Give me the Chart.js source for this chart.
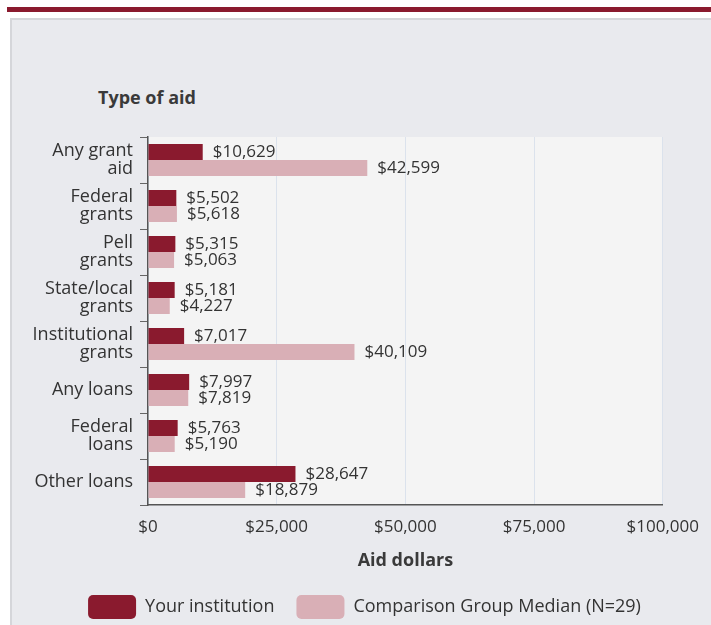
<!DOCTYPE html>
<html>
<head>
<meta charset="utf-8">
<script src="https://cdn.jsdelivr.net/npm/chart.js@4/dist/chart.umd.min.js"></script>
<style>
  html, body { margin: 0; padding: 0; background: #fff; width: 711px; height: 625px; overflow: hidden; }
  .top-bar { position: absolute; left: 7px; top: 7px; width: 704px; height: 5px; background: #8a1a2e; }
  .frame { position: absolute; left: 10px; top: 18px; width: 710px; height: 620px; background: #e9eaee;
           border-left: 2px solid #d5d6da; border-top: 2px solid #d5d6da; }
  .chart-title { position: absolute; left: 98px; top: 85px; font: bold 18px "Open Sans", sans-serif; color: #3a3a3a; }
  #aidChart { position: absolute; left: 0; top: 0; }
</style>
</head>
<body>
<div class="top-bar"></div>
<div class="frame"></div>
<div class="chart-title">Type of aid</div>
<canvas id="aidChart" width="711" height="625"></canvas>
<script>
// Chart data
const categories = [
    ['Any grant', 'aid'],
    ['Federal', 'grants'],
    ['Pell', 'grants'],
    ['State/local', 'grants'],
    ['Institutional', 'grants'],
    'Any loans',
    ['Federal', 'loans'],
    'Other loans'
];
const institutionValues = [10629, 5502, 5315, 5181, 7017, 7997, 5763, 28647];
const comparisonValues = [42599, 5618, 5063, 4227, 40109, 7819, 5190, 18879];
const xTicks = [0, 25000, 50000, 75000, 100000];

const fontFamily = '"Open Sans", sans-serif';
Chart.defaults.font.family = fontFamily;
Chart.defaults.color = '#333';

function formatDollars(value) {
    return '$' + Number(value).toLocaleString('en-US');
}

// Light background behind the plot area
const plotBackground = {
    id: 'plotBackground',
    beforeDraw(chart) {
        const { ctx, chartArea } = chart;
        ctx.save();
        ctx.fillStyle = '#f4f4f4';
        ctx.fillRect(chartArea.left, chartArea.top, chartArea.right - chartArea.left, chartArea.bottom - chartArea.top);
        ctx.restore();
    }
};

// Legend sits a bit right of the canvas centre in the original
const legendShift = {
    id: 'legendShift',
    afterLayout(chart) {
        if (chart.legend) {
            chart.legend.left += 33;
            chart.legend.right += 33;
        }
    }
};

// Value labels at the end of each bar
const barLabels = {
    id: 'barLabels',
    afterDatasetsDraw(chart) {
        const ctx = chart.ctx;
        ctx.save();
        ctx.font = '17px ' + fontFamily;
        ctx.fillStyle = '#333';
        ctx.textBaseline = 'middle';
        chart.data.datasets.forEach((ds, i) => {
            chart.getDatasetMeta(i).data.forEach((bar, j) => {
                ctx.fillText(formatDollars(ds.data[j]), bar.x + 10, bar.y);
            });
        });
        ctx.restore();
    }
};

new Chart(document.getElementById('aidChart'), {
    type: 'bar',
    data: {
        labels: categories,
        datasets: [
            {
                label: 'Your institution',
                data: institutionValues,
                backgroundColor: '#8a1a2e',
                barPercentage: 1,
                categoryPercentage: 0.7
            },
            {
                label: 'Comparison Group Median (N=29)',
                data: comparisonValues,
                backgroundColor: '#d9afb6',
                barPercentage: 1,
                categoryPercentage: 0.7
            }
        ]
    },
    options: {
        indexAxis: 'y',
        responsive: false,
        animation: false,
        layout: {
            padding: { top: 137, right: 48, left: 0, bottom: 0 }
        },
        scales: {
            y: {
                afterFit: scale => { scale.width = 148; },
                grid: {
                    offset: true,
                    drawOnChartArea: false,
                    tickLength: 8,
                    tickColor: '#666'
                },
                border: { color: '#555', width: 1.5 },
                ticks: {
                    font: { size: 18, lineHeight: 1.0 },
                    color: '#333',
                    padding: 7
                }
            },
            x: {
                min: 0,
                max: 100000,
                afterBuildTicks: scale => {
                    scale.ticks = xTicks.map(v => ({ value: v }));
                },
                afterFit: scale => { scale.height = 68; },
                grid: {
                    color: '#dbe2ec',
                    drawTicks: false
                },
                border: { color: '#555', width: 1.5 },
                ticks: {
                    font: { size: 17 },
                    color: '#333',
                    padding: 12,
                    callback: value => formatDollars(value)
                },
                title: {
                    display: true,
                    text: 'Aid dollars',
                    font: { size: 18, weight: 'bold' },
                    color: '#3a3a3a',
                    padding: { top: 0, bottom: 1 }
                }
            }
        },
        plugins: {
            legend: {
                position: 'bottom',
                maxHeight: 52,
                labels: {
                    boxWidth: 48,
                    boxHeight: 24,
                    useBorderRadius: true,
                    borderRadius: 5,
                    font: { size: 18 },
                    color: '#333',
                    padding: 22
                }
            },
            tooltip: { enabled: false }
        }
    },
    plugins: [plotBackground, legendShift, barLabels]
});
</script>
</body>
</html>
